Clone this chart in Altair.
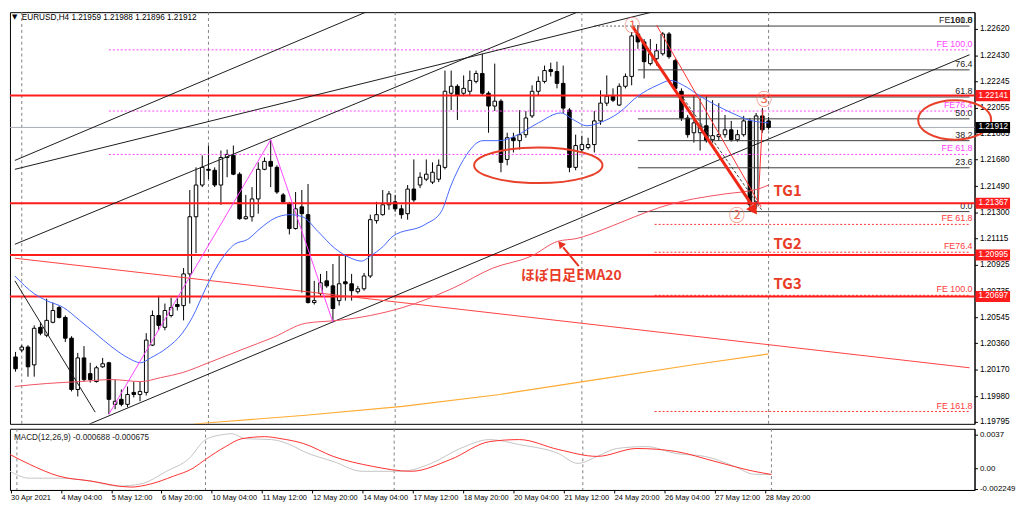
import altair as alt
import pandas as pd

# ---------------- chart values ----------------
opens = [1.20262,1.20312,1.20333,1.20205,1.20475,1.20418,1.20511,1.20617,1.20546,1.20397,
         1.20028,1.20255,1.20142,1.20085,1.20191,1.20220,1.19921,1.19957,1.19921,1.20007,
         1.19992,1.20007,1.20347,1.20560,1.20475,1.20560,1.20639,1.20631,1.20859,1.21270,
         1.21498,1.21611,1.21604,1.21498,1.21696,1.21711,1.21576,1.21256,1.21270,1.21398,
         1.21611,1.21668,1.21625,1.21427,1.21363,1.21185,1.21341,1.21285,1.20653,1.20717,
         1.20809,1.20773,1.20667,1.20802,1.20788,1.20731,1.20752,1.20844,1.21242,1.21285,
         1.21356,1.21377,1.21327,1.21292,1.21469,1.21498,1.21540,1.21519,1.21540,1.21625,
         1.22158,1.22208,1.22158,1.22172,1.22243,1.22300,1.22158,1.22066,1.22101,1.21682,
         1.21838,1.21817,1.21860,1.21995,1.22172,1.22243,1.22328,1.22314,1.22229,1.22037,
         1.21625,1.21753,1.21767,1.21789,1.21959,1.22087,1.22137,1.22073,1.22208,1.22279,
         1.22584,1.22527,1.22371,1.22406,1.22442,1.22584,1.22392,1.22172,1.21980,1.21874,
         1.21874,1.21924,1.21824,1.21846,1.21860,1.21895,1.21824,1.21860,1.21959,1.21377,
         1.21995,1.21959]
highs = [1.20298,1.20347,1.20347,1.20489,1.20511,1.20681,1.20653,1.20631,1.20560,1.20411,
         1.20291,1.20340,1.20220,1.20198,1.20255,1.20227,1.20099,1.20028,1.20049,1.20085,
         1.20085,1.20433,1.20596,1.20702,1.20646,1.20688,1.20688,1.20901,1.21462,1.21625,
         1.21711,1.21782,1.21625,1.21746,1.21753,1.21782,1.21590,1.21427,1.21483,1.21661,
         1.21696,1.21824,1.21640,1.21441,1.21377,1.21448,1.21462,1.21505,1.20809,1.20859,
         1.20880,1.20930,1.21001,1.20994,1.20859,1.20773,1.20866,1.21285,1.21377,1.21462,
         1.21455,1.21427,1.21356,1.21498,1.21682,1.21590,1.21682,1.21661,1.21682,1.22321,
         1.22321,1.22222,1.22286,1.22321,1.22321,1.22442,1.22172,1.22371,1.22115,1.21874,
         1.21874,1.22037,1.22030,1.22215,1.22279,1.22357,1.22378,1.22385,1.22357,1.22051,
         1.21860,1.21853,1.21838,1.22030,1.22179,1.22286,1.22193,1.22229,1.22300,1.22598,
         1.22648,1.22548,1.22548,1.22513,1.22598,1.22598,1.22406,1.22193,1.22002,1.22137,
         1.22122,1.22137,1.22108,1.22087,1.22002,1.21959,1.21895,1.21995,1.21980,1.22016,
         1.22051,1.21988]
lows = [1.20156,1.20298,1.20120,1.20120,1.20418,1.20404,1.20504,1.20539,1.20369,1.20014,
        1.19978,1.20085,1.20078,1.20078,1.20184,1.19850,1.19886,1.19907,1.19900,1.19971,
        1.19943,1.19985,1.20340,1.20454,1.20454,1.20546,1.20596,1.20525,1.20646,1.21008,
        1.21483,1.21540,1.21483,1.21356,1.21554,1.21569,1.21249,1.21249,1.21235,1.21292,
        1.21604,1.21483,1.21434,1.21363,1.21143,1.21178,1.20724,1.20646,1.20639,1.20702,
        1.20759,1.20511,1.20631,1.20667,1.20667,1.20717,1.20738,1.20830,1.21221,1.21278,
        1.21320,1.21306,1.21256,1.21249,1.21377,1.21476,1.21526,1.21505,1.21519,1.21611,
        1.22037,1.21966,1.22137,1.22144,1.22229,1.22144,1.21874,1.22030,1.21590,1.21640,
        1.21732,1.21753,1.21838,1.21980,1.22144,1.22229,1.22279,1.22193,1.22016,1.21590,
        1.21604,1.21732,1.21753,1.21732,1.21931,1.22066,1.22094,1.22066,1.22193,1.22215,
        1.22477,1.22264,1.22357,1.22357,1.22428,1.22406,1.22172,1.21959,1.21838,1.21803,
        1.21746,1.21803,1.21803,1.21817,1.21838,1.21810,1.21810,1.21846,1.21306,1.21327,
        1.21874,1.21896]
closes = [1.20177,1.20333,1.20191,1.20468,1.20433,1.20525,1.20596,1.20546,1.20397,1.20028,
          1.20255,1.20099,1.20099,1.20184,1.20213,1.19957,1.19943,1.19921,1.19992,1.19992,
          1.20014,1.20383,1.20560,1.20489,1.20596,1.20617,1.20624,1.20859,1.21270,1.21498,
          1.21625,1.21604,1.21498,1.21696,1.21718,1.21576,1.21256,1.21270,1.21398,1.21611,
          1.21668,1.21633,1.21448,1.21377,1.21185,1.21327,1.21292,1.20653,1.20667,1.20795,
          1.20773,1.20610,1.20788,1.20788,1.20738,1.20752,1.20844,1.21249,1.21285,1.21356,
          1.21434,1.21327,1.21285,1.21469,1.21391,1.21554,1.21576,1.21590,1.21640,1.22172,
          1.22208,1.22144,1.22193,1.22250,1.22300,1.22158,1.22066,1.22101,1.21661,1.21838,
          1.21817,1.21860,1.21980,1.22172,1.22243,1.22321,1.22314,1.22229,1.22051,1.21625,
          1.21782,1.21789,1.21789,1.21959,1.22087,1.22137,1.22108,1.22208,1.22279,1.22570,
          1.22527,1.22385,1.22442,1.22463,1.22584,1.22421,1.22193,1.21980,1.21860,1.21945,
          1.21924,1.21817,1.21853,1.21860,1.21895,1.21824,1.21860,1.21959,1.21356,1.21995,
          1.21895,1.21912]

x_tick_bars = [0, 8, 16, 24, 32, 40, 48, 56, 64, 72, 80, 88, 96, 104, 112, 120]
x_tick_labels = ["30 Apr 2021", "4 May 04:00", "5 May 12:00", "6 May 20:00", "10 May 04:00",
                 "11 May 12:00", "12 May 20:00", "14 May 04:00", "17 May 12:00", "18 May 20:00",
                 "20 May 04:00", "21 May 12:00", "24 May 20:00", "26 May 04:00", "27 May 12:00",
                 "28 May 20:00"]
price_ticks = [1.22620, 1.22430, 1.22245, 1.22055, 1.21865, 1.21680, 1.21490, 1.21300,
               1.21115, 1.20925, 1.20735, 1.20545, 1.20360, 1.20170, 1.19980, 1.19795]
grid_bars = [1, 31, 61, 91, 121]

red_levels = [1.22141, 1.21367, 1.20995, 1.20697]
current_price = 1.21912

fe_mag_levels = [1.22470, 1.22030, 1.21718]
fe_mag_names = ["FE 100.0", "FE76.4", "FE 61.8"]
fe_mag_start = 15
fe_red_levels = [1.21215, 1.21015, 1.20705, 1.19870]
fe_red_names = ["FE 61.8", "FE76.4", "FE 100.0", "FE 161.8"]
fe_red_start = 102.7
fib_levels = [1.22641, 1.22326, 1.22131, 1.21974, 1.21817, 1.21622, 1.21307]
fib_names = ["100.0", "76.4", "61.8", "50.0", "38.2", "23.6", "0.0"]
fib_start = 100

# black trend lines: start bar, start price, end bar, end price
tl_b1 = [-0.1, -0.1, -0.1, 11.9, -0.1]
tl_p1 = [1.21675, 1.21611, 1.21072, 1.19780, 1.20809]
tl_b2 = [58.4, 107.3, 93.3, 153.3, 12.8]
tl_p2 = [1.22781, 1.22797, 1.22797, 1.22435, 1.19865]

red_tl = [-0.1, 1.20972, 153.3, 1.20184]

ema_blue_x = [-0.1, 3.0, 5.0, 7.7, 10.3, 12.8, 15.5, 18.1, 20.1, 21.7, 24.3, 26.8, 28.4, 30.6,
              32.6, 35.2, 37.3, 39.3, 41.5, 44.0, 46.1, 48.6, 51.3, 53.9, 55.6, 57.0, 59.1, 60.6,
              65.8, 68.4, 70.0, 72.0, 75.1, 77.8, 80.4, 84.0, 87.6, 89.7, 91.8, 93.8, 96.9,
              100.0, 103.1, 105.3, 107.3, 110.0, 112.5, 115.1, 117.8, 121.0]
ema_blue_y = [1.20844, 1.20717, 1.20667, 1.20617, 1.20525, 1.20433, 1.20333, 1.20255, 1.20220,
              1.20255, 1.20326, 1.20433, 1.20546, 1.20759, 1.20930, 1.21072, 1.21107, 1.21185,
              1.21256, 1.21285, 1.21270, 1.21164, 1.21043, 1.20972, 1.20951, 1.20987, 1.21058,
              1.21129, 1.21214, 1.21306, 1.21498, 1.21682, 1.21817, 1.21817, 1.21853, 1.21945,
              1.22016, 1.21966, 1.21924, 1.21945, 1.22016, 1.22137, 1.22215, 1.22250, 1.22215,
              1.22137, 1.22073, 1.22016, 1.21966, 1.21945]
ema_red_x = [-0.1, 5.0, 10.3, 15.5, 20.1, 23.3, 26.8, 31.0, 36.2, 41.5, 46.6, 51.8, 57.0, 62.2,
             70.4, 76.7, 82.9, 87.1, 90.2, 94.4, 99.5, 103.8, 108.9, 114.0, 119.3, 121.0]
ema_red_y = [1.20050, 1.20071, 1.20085, 1.20099, 1.20085, 1.20113, 1.20149, 1.20220, 1.20312,
             1.20404, 1.20504, 1.20525, 1.20560, 1.20617, 1.20759, 1.20901, 1.20987, 1.21093,
             1.21114, 1.21178, 1.21270, 1.21341, 1.21398, 1.21434, 1.21469, 1.21498]
ema_orange_x = [28.7, 32.6, 46.6, 62.2, 77.8, 93.3, 108.9, 121.0]
ema_orange_y = [1.19780, 1.19794, 1.19843, 1.19907, 1.19992, 1.20099, 1.20206, 1.20284]

zig_x = [15, 41, 51]
zig_y = [1.19850, 1.21824, 1.20511]

macd_x = [-0.1, 3.0, 7.7, 12.8, 17.0, 20.6, 24.8, 28.4, 31.0, 33.7, 35.2, 37.3, 41.5, 45.1,
          46.6, 51.3, 55.9, 62.2, 66.9, 71.5, 76.2, 80.9, 87.1, 90.2, 93.3, 96.4, 101.1, 105.8,
          110.4, 115.1, 118.2, 121.0]
macd_main = [-0.00033, -0.00109, -0.00109, -0.00141, -0.00196, -0.00174, -0.00033, 0.00109,
             0.00316, 0.00370, 0.00381, 0.00326, 0.00316, 0.00239, 0.00185, 0.00076, -0.00033,
             -0.00033, 0.00054, 0.00218, 0.00316, 0.00261, 0.00163, 0.00054, 0.00131, 0.00218,
             0.00239, 0.00163, 0.00131, 0.00022, -0.00065, -0.00069]
signal_x = [-0.1, 3.0, 7.7, 12.8, 19.1, 22.2, 25.9, 29.0, 31.0, 34.2, 36.8, 40.4, 43.0, 46.6,
            51.3, 57.5, 63.7, 70.0, 76.2, 80.9, 87.1, 93.3, 99.6, 105.8, 112.0, 118.2, 121.0]
signal = [0.00152, 0.00044, -0.00087, -0.00141, -0.00207, -0.00174, -0.00087, 0.0, 0.00098,
          0.00239, 0.00326, 0.00348, 0.00326, 0.00272, 0.00131, 0.00022, -0.00033, 0.00098,
          0.00294, 0.00316, 0.00207, 0.00131, 0.00218, 0.00185, 0.00076, -0.00033, -0.00068]

# ---------------- layout ----------------
W = 977
H_MAIN = 417
H_MACD = 62
X0, X1 = -0.1, 153.3
Y0, Y1 = 1.19781, 1.22741
M0, M1 = -0.00239, 0.00435

RED = "#ff1c1c"
FONT = "Liberation Sans"

xscale = alt.Scale(domain=[X0, X1], nice=False, zero=False)
yscale = alt.Scale(domain=[Y0, Y1], nice=False, zero=False)
mscale = alt.Scale(domain=[M0, M1], nice=False, zero=False)

yaxis = alt.Axis(orient="right", values=price_ticks, format=".5f", tickSize=3, labelPadding=2,
                 grid=False, title=None, labelFontSize=8.3, labelFont=FONT, labelColor="black",
                 tickColor="black", domainColor="black", labelOverlap=False, labelFlush=False)


def X(f):
    return alt.X(f"{f}:Q", scale=xscale, axis=None)


def Y(f):
    return alt.Y(f"{f}:Q", scale=yscale, axis=yaxis)


candles = pd.DataFrame({"bar": list(range(len(opens))), "o": opens, "h": highs,
                        "l": lows, "c": closes})

layers = []

# vertical grid
layers.append(alt.Chart(pd.DataFrame({"bar": grid_bars})).mark_rule(
    color="#808080", strokeDash=[3, 3], strokeWidth=1).encode(x=X("bar")))

# current price line
layers.append(alt.Chart(pd.DataFrame({"p": [current_price]})).mark_rule(
    color="#a8acb8", strokeWidth=1).encode(y=Y("p")))

# candle wicks and bodies
layers.append(alt.Chart(candles).mark_rule(color="black", strokeWidth=1, clip=True).encode(
    x=X("bar"), y=Y("l"), y2="h"))
layers.append(alt.Chart(candles).mark_bar(size=3.6, stroke="black", strokeWidth=1, clip=True).encode(
    x=X("bar"), y=Y("o"), y2="c",
    fill=alt.condition("datum.c >= datum.o", alt.value("white"), alt.value("black"))))

# magenta FE dotted lines
mag = pd.DataFrame({"p": fe_mag_levels, "name": fe_mag_names, "b1": [fe_mag_start] * 3,
                    "b2": [X1] * 3})
layers.append(alt.Chart(mag).mark_rule(color="#ff44ff", strokeDash=[2, 2], strokeWidth=1).encode(
    x=X("b1"), x2="b2", y=Y("p")))
layers.append(alt.Chart(mag).mark_text(align="right", baseline="bottom", dx=-2, dy=-1,
                                       fontSize=9, font=FONT, color="#ff44ff").encode(
    x=alt.value(W), y=Y("p"), text="name:N"))

# fib retracement lines
fib = pd.DataFrame({"p": fib_levels, "name": fib_names, "b1": [fib_start] * 7, "b2": [X1] * 7})
layers.append(alt.Chart(fib).mark_rule(color="#3a3a3a", strokeWidth=1).encode(
    x=X("b1"), x2="b2", y=Y("p")))
layers.append(alt.Chart(fib).mark_text(align="right", baseline="bottom", dx=-2, dy=-1,
                                       fontSize=9, font=FONT, color="#222").encode(
    x=alt.value(W), y=Y("p"), text="name:N"))
layers.append(alt.Chart(pd.DataFrame({"t": ["FE161.8"], "p": [fib_levels[0]]})).mark_text(
    align="right", baseline="bottom", dx=-2, dy=-1, fontSize=9, font=FONT, color="#222").encode(
    x=alt.value(W), y=Y("p"), text="t:N"))
layers.append(alt.Chart(pd.DataFrame({"b1": [93], "b2": [fib_start], "p": [fib_levels[0]]})).mark_rule(
    color="#555", strokeDash=[2, 2]).encode(x=X("b1"), x2="b2", y=Y("p")))

# red FE dotted lines
fr = pd.DataFrame({"p": fe_red_levels, "name": fe_red_names, "b1": [fe_red_start] * 4,
                   "b2": [X1] * 4})
layers.append(alt.Chart(fr).mark_rule(color="#ff3030", strokeDash=[2, 2], strokeWidth=1).encode(
    x=X("b1"), x2="b2", y=Y("p")))
layers.append(alt.Chart(fr).mark_text(align="right", baseline="bottom", dx=-2, dy=-1,
                                      fontSize=9, font=FONT, color="#ff3a3a").encode(
    x=alt.value(W), y=Y("p"), text="name:N"))

# red horizontal levels
layers.append(alt.Chart(pd.DataFrame({"p": red_levels})).mark_rule(color=RED, strokeWidth=2).encode(
    y=Y("p")))

# black trend lines
tl = pd.DataFrame({"b1": tl_b1, "p1": tl_p1, "b2": tl_b2, "p2": tl_p2})
layers.append(alt.Chart(tl).mark_rule(color="#1a1a1a", strokeWidth=1, clip=True).encode(
    x=X("b1"), y=Y("p1"), x2="b2", y2="p2"))
layers.append(alt.Chart(pd.DataFrame({"b1": [red_tl[0]], "p1": [red_tl[1]], "b2": [red_tl[2]],
                                      "p2": [red_tl[3]]})).mark_rule(
    color="#ff4040", strokeWidth=1, clip=True).encode(x=X("b1"), y=Y("p1"), x2="b2", y2="p2"))

# moving averages
layers.append(alt.Chart(pd.DataFrame({"bar": ema_red_x, "v": ema_red_y})).mark_line(
    color="#f05060", strokeWidth=1, clip=True, interpolate="monotone").encode(x=X("bar"), y=Y("v")))
layers.append(alt.Chart(pd.DataFrame({"bar": ema_orange_x, "v": ema_orange_y})).mark_line(
    color="#ffaa33", strokeWidth=1.2, clip=True).encode(x=X("bar"), y=Y("v")))
layers.append(alt.Chart(pd.DataFrame({"bar": ema_blue_x, "v": ema_blue_y})).mark_line(
    color="#4466ff", strokeWidth=1, clip=True, interpolate="monotone").encode(x=X("bar"), y=Y("v")))

# magenta zigzag
layers.append(alt.Chart(pd.DataFrame({"bar": zig_x, "v": zig_y})).mark_line(
    color="#ff44ff", strokeWidth=1).encode(x=X("bar"), y=Y("v")))

# channel lines around the drop
seg = pd.DataFrame({"b1": [103.0, 119.3], "p1": [1.22648, 1.21341], "b2": [119.8, 120.1],
                    "p2": [1.21341, 1.22037]})
layers.append(alt.Chart(seg).mark_rule(color="#ff3030", strokeWidth=1).encode(
    x=X("b1"), y=Y("p1"), x2="b2", y2="p2"))
layers.append(alt.Chart(pd.DataFrame({"b1": [107.3], "p1": [1.22122], "b2": [120.1],
                                      "p2": [1.21306]})).mark_rule(
    color="#444", strokeDash=[3, 2], strokeWidth=1).encode(x=X("b1"), y=Y("p1"), x2="b2", y2="p2"))

# thick red arrow 1 -> 2
layers.append(alt.Chart(pd.DataFrame({"b1": [99.1], "p1": [1.22641], "b2": [118.3],
                                      "p2": [1.21355]})).mark_rule(
    color="#f02818", strokeWidth=3).encode(x=X("b1"), y=Y("p1"), x2="b2", y2="p2"))
layers.append(alt.Chart(pd.DataFrame({"bar": [118.5], "v": [1.21327]})).mark_point(
    shape="triangle", angle=146, size=150, filled=True, color="#f02818", opacity=1).encode(
    x=X("bar"), y=Y("v")))

# annotation arrow to the EMA
layers.append(alt.Chart(pd.DataFrame({"b1": [90.5], "p1": [1.20915], "b2": [88.0],
                                      "p2": [1.21050]})).mark_rule(
    color="#e83020", strokeWidth=2).encode(x=X("b1"), y=Y("p1"), x2="b2", y2="p2"))
layers.append(alt.Chart(pd.DataFrame({"bar": [87.7], "v": [1.21068]})).mark_point(
    shape="triangle", angle=320, size=70, filled=True, color="#e83020", opacity=1).encode(
    x=X("bar"), y=Y("v")))

# circled numbers
circ = pd.DataFrame({"bar": [99.1, 115.9, 120.3], "v": [1.22641, 1.21278, 1.22108],
                     "t": ["①", "②", "③"]})
layers.append(alt.Chart(circ).mark_text(fontSize=16, font="Noto Sans CJK JP", color="#f06a55").encode(
    x=X("bar"), y=Y("v"), text="t:N"))

# target labels
tg = pd.DataFrame({"bar": [121.8, 121.8, 121.8], "v": [1.21455, 1.21072, 1.20788],
                   "t": ["TG1", "TG2", "TG3"]})
layers.append(alt.Chart(tg).mark_text(align="left", fontSize=15, fontWeight="bold",
                                      font="Noto Sans CJK JP", color="#e83c28").encode(
    x=X("bar"), y=Y("v"), text="t:N"))
layers.append(alt.Chart(pd.DataFrame({"bar": [81.2], "v": [1.20844], "t": ["ほぼ日足EMA20"]})).mark_text(
    align="left", fontSize=14, fontWeight="bold", font="Noto Sans CJK JP", color="#e83c28").encode(
    x=X("bar"), y=Y("v"), text="t:N"))

# ellipses
def ellipse_path(b):
    k = 0.5523
    return (f"M-1,0 C-1,{-k*b:.4f} {-k:.4f},{-b:.4f} 0,{-b:.4f} "
            f"C{k:.4f},{-b:.4f} 1,{-k*b:.4f} 1,0 "
            f"C1,{k*b:.4f} {k:.4f},{b:.4f} 0,{b:.4f} "
            f"C{-k:.4f},{b:.4f} -1,{k*b:.4f} -1,0 Z")

layers.append(alt.Chart(pd.DataFrame({"bar": [84.0], "v": [1.21640]})).mark_point(
    shape=ellipse_path(18 / 65), size=130 * 130, filled=False, strokeWidth=2,
    color="#e8402a", opacity=1).encode(x=X("bar"), y=Y("v")))
layers.append(alt.Chart(pd.DataFrame({"bar": [150.9], "v": [1.21966]})).mark_point(
    shape=ellipse_path(20 / 37), size=74 * 74, filled=False, strokeWidth=2,
    color="#e8402a", opacity=1, clip=False).encode(x=X("bar"), y=Y("v")))

# price label boxes on the right axis
boxes = pd.DataFrame({"p": red_levels + [current_price],
                      "t": ["%.5f" % v for v in red_levels] + ["%.5f" % current_price],
                      "col": ["#ff1c1c"] * 4 + ["#000000"]})
boxes["top"] = boxes["p"] + 0.00040
boxes["bot"] = boxes["p"] - 0.00040
layers.append(alt.Chart(boxes).mark_rect().encode(
    x=alt.value(W + 1), x2=alt.value(W + 36), y=Y("top"), y2="bot",
    fill=alt.Fill("col:N", scale=None)))
layers.append(alt.Chart(boxes).mark_text(align="left", fontSize=8.3, font=FONT, color="white").encode(
    x=alt.value(W + 4), y=Y("p"), text="t:N"))

# header
layers.append(alt.Chart(pd.DataFrame({"t": ["▼"]})).mark_text(
    align="left", baseline="top", fontSize=7, font="DejaVu Sans", color="black").encode(
    x=alt.value(2), y=alt.value(1), text="t:N"))
layers.append(alt.Chart(pd.DataFrame({"t": ["EURUSD,H4  1.21959 1.21988 1.21896 1.21912"]})).mark_text(
    align="left", baseline="top", fontSize=8.3, font=FONT, color="black").encode(
    x=alt.value(12), y=alt.value(1), text="t:N"))

main = alt.layer(*layers).properties(width=W, height=H_MAIN)

# ---------------- MACD panel ----------------
label_js = "[" + ",".join("'%s'" % s for s in x_tick_labels) + "]"
xaxis = alt.Axis(values=x_tick_bars, labelExpr=f"{label_js}[round(datum.value / 8)]",
                 labelAlign="left", labelPadding=1, tickSize=3, grid=False, title=None,
                 labelFontSize=7.5, labelFont=FONT, labelColor="black", tickColor="black",
                 domainColor="black", labelOverlap=False, labelFlush=False)
maxis = alt.Axis(orient="right", values=[0.0037, 0.0, -0.002249], tickSize=3, labelPadding=2,
                 labelExpr="datum.value > 0.001 ? '0.0037' : (datum.value < -0.001 ? '-0.002249' : '0.00')",
                 grid=False, title=None, labelFontSize=8, labelFont=FONT, labelColor="black",
                 tickColor="black", domainColor="black", labelOverlap=False, labelFlush=False)


def MX(f):
    return alt.X(f"{f}:Q", scale=xscale, axis=xaxis)


def MY(f):
    return alt.Y(f"{f}:Q", scale=mscale, axis=maxis)


mlayers = [
    alt.Chart(pd.DataFrame({"bar": grid_bars})).mark_rule(
        color="#808080", strokeDash=[3, 3], strokeWidth=1).encode(x=MX("bar")),
    alt.Chart(pd.DataFrame({"bar": macd_x, "v": macd_main})).mark_line(
        color="#c4c4c4", strokeWidth=1, interpolate="monotone", clip=True).encode(x=MX("bar"), y=MY("v")),
    alt.Chart(pd.DataFrame({"bar": signal_x, "v": signal})).mark_line(
        color="#ff3030", strokeWidth=1, interpolate="monotone", clip=True).encode(x=MX("bar"), y=MY("v")),
    alt.Chart(pd.DataFrame({"t": ["MACD(12,26,9) -0.000688 -0.000675"]})).mark_text(
        align="left", baseline="middle", fontSize=8.3, font=FONT, color="#222").encode(
        x=alt.value(4), y=alt.value(9), text="t:N"),
]
macd = alt.layer(*mlayers).properties(width=W, height=H_MACD)

chart = alt.vconcat(main, macd, spacing=2).properties(padding=0, background="white").configure_view(
    stroke="#000000", strokeWidth=1)

chart.save("out.html", embed_options={"renderer": "svg", "actions": False})
